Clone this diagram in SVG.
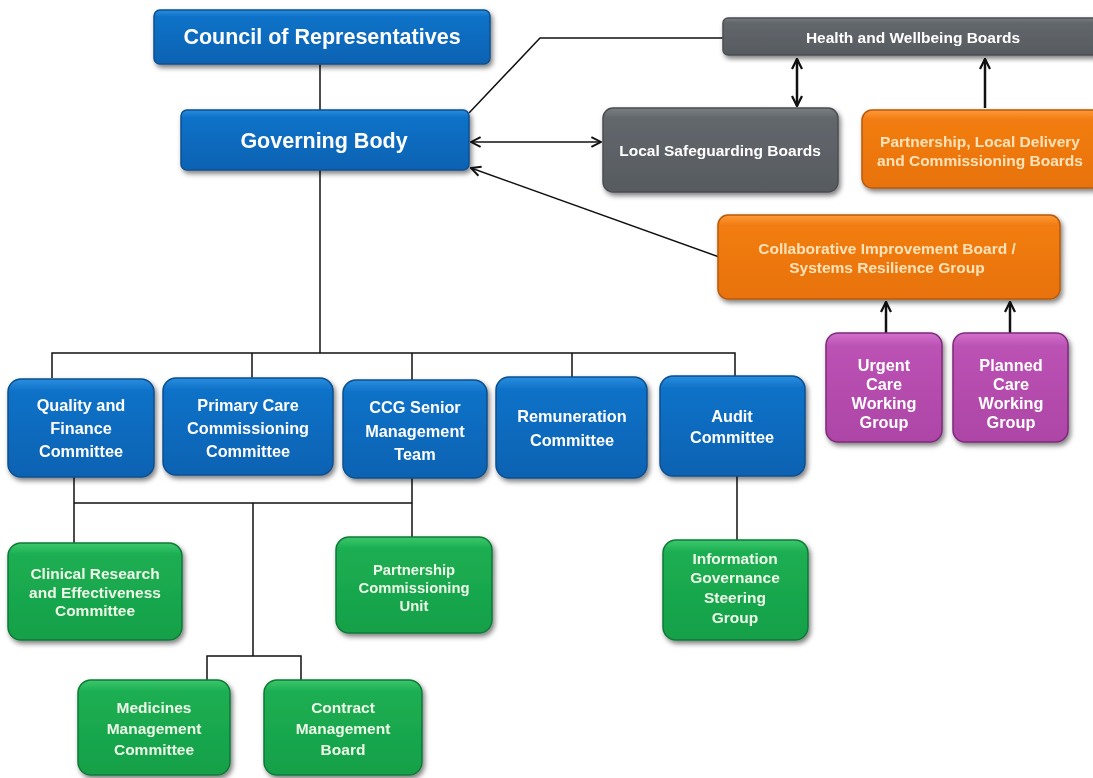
<svg xmlns="http://www.w3.org/2000/svg" width="1093" height="778" viewBox="0 0 1093 778">
<style>
.ln{fill:none;stroke:#111;stroke-width:1.5}
.ar{fill:none;stroke:#111;stroke-width:2.5}
.t{font-family:"Liberation Sans",Arial,sans-serif;font-weight:bold;fill:#fff;text-anchor:middle}
.big{font-size:21.5px}
.mid{font-size:16.3px}
.gm{font-size:15.5px}
.sm{font-size:15.5px}
.or{fill:#ffe3b8}
.gr{fill:#eef8e8}
.blue{fill:url(#gBlue);stroke:#0a4f8e;stroke-width:1.5}
.gray{fill:url(#gGray);stroke:#4a4e52;stroke-width:1.5}
.orange{fill:url(#gOrange);stroke:#b85a08;stroke-width:1.5}
.purple{fill:url(#gPurple);stroke:#7e2a7a;stroke-width:1.5}
.green{fill:url(#gGreen);stroke:#0f7a38;stroke-width:1.5}
</style>
<defs>
<linearGradient id="gBlue" x1="0" y1="0" x2="0" y2="1"><stop offset="0" stop-color="#2a8ee0"/><stop offset="0.12" stop-color="#0f72c8"/><stop offset="1" stop-color="#0a62b2"/></linearGradient>
<linearGradient id="gGray" x1="0" y1="0" x2="0" y2="1"><stop offset="0" stop-color="#7a7f84"/><stop offset="0.12" stop-color="#62676c"/><stop offset="1" stop-color="#575b60"/></linearGradient>
<linearGradient id="gOrange" x1="0" y1="0" x2="0" y2="1"><stop offset="0" stop-color="#ff9a3a"/><stop offset="0.12" stop-color="#f27d12"/><stop offset="1" stop-color="#e8720a"/></linearGradient>
<linearGradient id="gPurple" x1="0" y1="0" x2="0" y2="1"><stop offset="0" stop-color="#d270cc"/><stop offset="0.12" stop-color="#bb52b4"/><stop offset="1" stop-color="#ad45a6"/></linearGradient>
<linearGradient id="gGreen" x1="0" y1="0" x2="0" y2="1"><stop offset="0" stop-color="#3cc86c"/><stop offset="0.12" stop-color="#1cae52"/><stop offset="1" stop-color="#16a049"/></linearGradient>
<filter id="sh" x="-10%" y="-10%" width="125%" height="130%"><feDropShadow dx="2" dy="3" stdDeviation="2.5" flood-color="#000" flood-opacity="0.5"/></filter>
<marker id="ah" viewBox="0 0 10 10" refX="9" refY="5" markerWidth="5" markerHeight="5" orient="auto-start-reverse" markerUnits="strokeWidth"><path d="M1,1 L9,5 L1,9" fill="none" stroke="#111" stroke-width="1.8"/></marker>
<marker id="ah2" viewBox="0 0 10 10" refX="9" refY="5" markerWidth="12" markerHeight="12" orient="auto-start-reverse" markerUnits="userSpaceOnUse"><path d="M1,1 L9,5 L1,9" fill="none" stroke="#111" stroke-width="1.6"/></marker>
</defs>

<g id="connectors">
<path class="ln" d="M320,64 V110"/>
<path class="ln" d="M320,170 V353"/>
<path class="ln" d="M52,378 V353 H735 V376"/>
<path class="ln" d="M252,353 V378"/>
<path class="ln" d="M412,353 V380"/>
<path class="ln" d="M572,353 V377"/>
<path class="ln" d="M74,477 V543"/>
<path class="ln" d="M74,503 H412"/>
<path class="ln" d="M412,478 V537"/>
<path class="ln" d="M253,503 V656"/>
<path class="ln" d="M207,680 V656 H301 V680"/>
<path class="ln" d="M737,476 V540"/>
<path class="ln" d="M469,113 L540,38 H723" stroke-width="2.5"/>
<path class="ln" d="M471,142 H601" stroke-width="2" marker-start="url(#ah2)" marker-end="url(#ah2)"/>
<path class="ln" d="M722,258 L471,168" stroke-width="2" marker-end="url(#ah2)"/>
<path class="ar" d="M797,59 V106" marker-start="url(#ah)" marker-end="url(#ah)"/>
<path class="ar" d="M985,108 V59" marker-end="url(#ah)"/>
<path class="ar" d="M886,333 V302" marker-end="url(#ah)"/>
<path class="ar" d="M1010,333 V302" marker-end="url(#ah)"/>
</g>

<g id="council" filter="url(#sh)"><rect class="blue" x="154" y="10" width="336" height="54" rx="6"/><text class="t big" x="322" y="44">Council of Representatives</text></g>
<g id="governing" filter="url(#sh)"><rect class="blue" x="181" y="110" width="288" height="60" rx="6"/><text class="t big" x="324" y="148">Governing Body</text></g>

<g id="hwb" filter="url(#sh)"><rect class="gray" x="723" y="18" width="380" height="37" rx="5"/><text class="t sm" x="913" y="43">Health and Wellbeing Boards</text></g>
<g id="lsb" filter="url(#sh)"><rect class="gray" x="603" y="108" width="235" height="84" rx="10"/><text class="t sm" x="720" y="156">Local Safeguarding Boards</text></g>
<g id="pldc" filter="url(#sh)"><rect class="orange" x="862" y="110" width="240" height="78" rx="10"/><text class="t sm or" x="980" y="147">Partnership, Local Delivery</text><text class="t sm or" x="980" y="166">and Commissioning Boards</text></g>
<g id="collab" filter="url(#sh)"><rect class="orange" x="718" y="215" width="342" height="84" rx="10"/><text class="t sm or" x="887" y="254">Collaborative Improvement Board /</text><text class="t sm or" x="887" y="273">Systems  Resilience Group</text></g>
<g id="urgent" filter="url(#sh)"><rect class="purple" x="826" y="333" width="116" height="109" rx="12"/><text class="t mid" x="884" y="371">Urgent</text><text class="t mid" x="884" y="390">Care</text><text class="t mid" x="884" y="409">Working</text><text class="t mid" x="884" y="428">Group</text></g>
<g id="planned" filter="url(#sh)"><rect class="purple" x="953" y="333" width="115" height="109" rx="12"/><text class="t mid" x="1011" y="371">Planned</text><text class="t mid" x="1011" y="390">Care</text><text class="t mid" x="1011" y="409">Working</text><text class="t mid" x="1011" y="428">Group</text></g>

<g id="quality" filter="url(#sh)"><rect class="blue" x="8" y="379" width="146" height="98" rx="13"/><text class="t mid" x="81" y="411">Quality and</text><text class="t mid" x="81" y="434">Finance</text><text class="t mid" x="81" y="457">Committee</text></g>
<g id="primary" filter="url(#sh)"><rect class="blue" x="163" y="378" width="170" height="97" rx="13"/><text class="t mid" x="248" y="411">Primary Care</text><text class="t mid" x="248" y="434">Commissioning</text><text class="t mid" x="248" y="457">Committee</text></g>
<g id="ccg" filter="url(#sh)"><rect class="blue" x="343" y="380" width="144" height="98" rx="13"/><text class="t mid" x="415" y="413">CCG  Senior</text><text class="t mid" x="415" y="437">Management</text><text class="t mid" x="415" y="460">Team</text></g>
<g id="remuneration" filter="url(#sh)"><rect class="blue" x="496" y="377" width="151" height="101" rx="13"/><text class="t mid" x="572" y="422">Remuneration</text><text class="t mid" x="572" y="446">Committee</text></g>
<g id="audit" filter="url(#sh)"><rect class="blue" x="660" y="376" width="145" height="100" rx="13"/><text class="t mid" x="732" y="422">Audit</text><text class="t mid" x="732" y="443">Committee</text></g>

<g id="clinical" filter="url(#sh)"><rect class="green" x="8" y="543" width="174" height="97" rx="13"/><text class="t gm gr" x="95" y="579">Clinical Research</text><text class="t gm gr" x="95" y="598">and Effectiveness</text><text class="t gm gr" x="95" y="616">Committee</text></g>
<g id="pcu" filter="url(#sh)"><rect class="green" x="336" y="537" width="156" height="96" rx="13"/><text class="t gr" style="font-size:14.8px" x="414" y="575">Partnership</text><text class="t gr" style="font-size:14.8px" x="414" y="593">Commissioning</text><text class="t gr" style="font-size:14.8px" x="414" y="611">Unit</text></g>
<g id="igsg" filter="url(#sh)"><rect class="green" x="663" y="540" width="145" height="100" rx="13"/><text class="t gm gr" x="735" y="564">Information</text><text class="t gm gr" x="735" y="583">Governance</text><text class="t gm gr" x="735" y="603">Steering</text><text class="t gm gr" x="735" y="623">Group</text></g>
<g id="medicines" filter="url(#sh)"><rect class="green" x="78" y="680" width="152" height="95" rx="13"/><text class="t gm gr" x="154" y="713">Medicines</text><text class="t gm gr" x="154" y="734">Management</text><text class="t gm gr" x="154" y="755">Committee</text></g>
<g id="contract" filter="url(#sh)"><rect class="green" x="264" y="680" width="158" height="95" rx="13"/><text class="t gm gr" x="343" y="713">Contract</text><text class="t gm gr" x="343" y="734">Management</text><text class="t gm gr" x="343" y="755">Board</text></g>
</svg>
